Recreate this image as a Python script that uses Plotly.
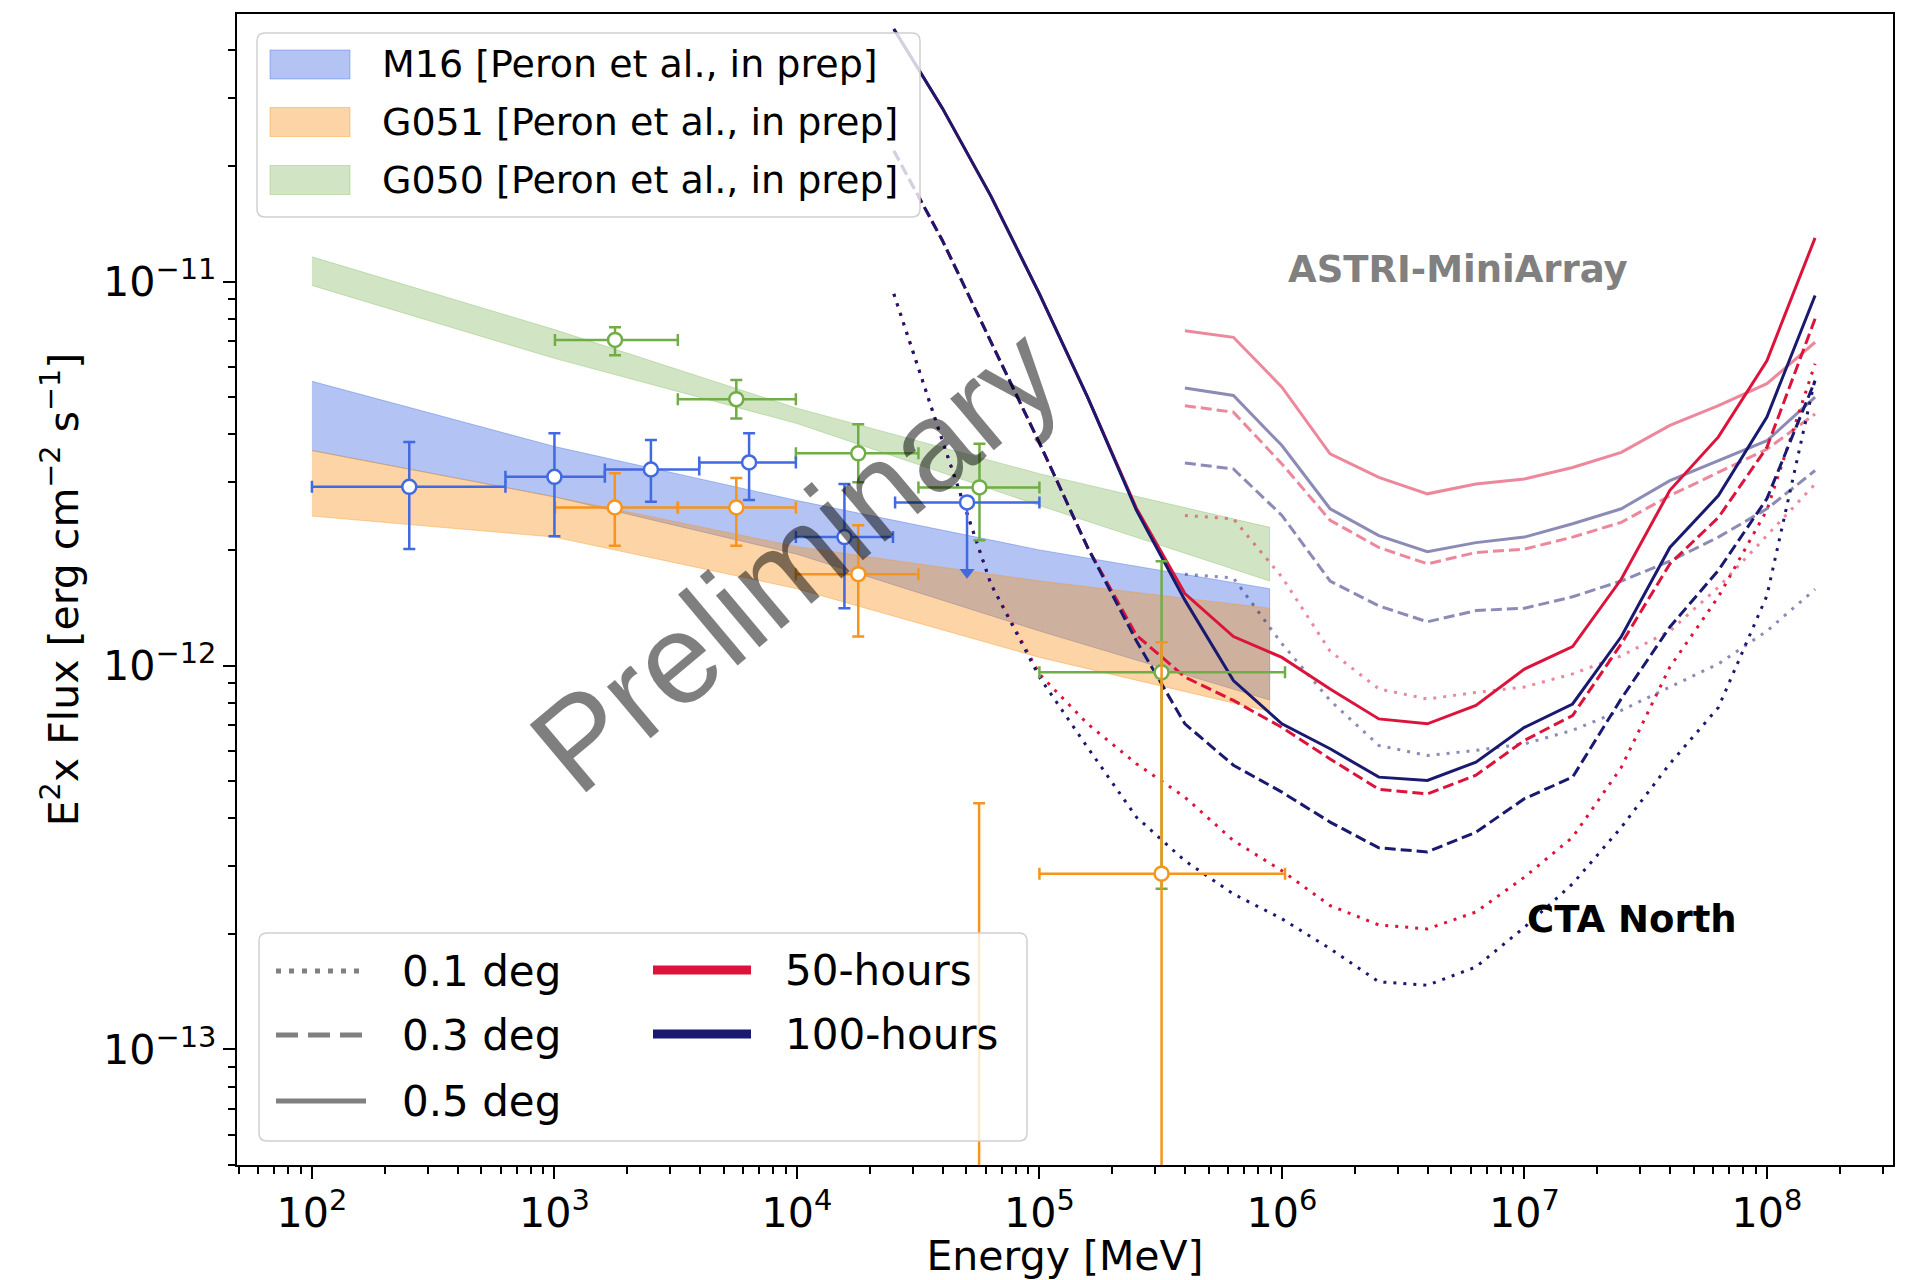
import plotly.graph_objects as go

# ------------------------------------------------------------------ data
# model bands (butterflies): energy nodes [MeV] and upper / lower flux
band_E = [1e2, 1e3, 1e4, 1e5, 8.9e5]
m16_hi = [5.50e-12, 3.72e-12, 2.69e-12, 2.00e-12, 1.585e-12]
m16_lo = [3.63e-12, 2.75e-12, 1.95e-12, 1.23e-12, 8.13e-13]
g051_hi = [3.63e-12, 2.75e-12, 2.04e-12, 1.66e-12, 1.41e-12]
g051_lo = [2.45e-12, 2.16e-12, 1.585e-12, 1.05e-12, 7.59e-13]
g050_hi = [1.16e-11, 7.50e-12, 4.68e-12, 3.16e-12, 2.29e-12]
g050_lo = [9.77e-12, 6.31e-12, 4.27e-12, 2.61e-12, 1.66e-12]

# flux points (E, E range, F, F range)
m16_E = [252, 1000, 2500, 6350, 1.57e4]
m16_Elo = [100, 628, 1614, 3955, 9900]
m16_Ehi = [628, 1614, 3955, 9900, 2.49e4]
m16_F = [2.92e-12, 3.10e-12, 3.24e-12, 3.38e-12, 2.16e-12]
m16_Fhi = [3.82e-12, 4.03e-12, 3.87e-12, 4.03e-12, 2.97e-12]
m16_Flo = [2.01e-12, 2.17e-12, 2.67e-12, 2.70e-12, 1.41e-12]

m16_ul_E = [5.03e4]
m16_ul_Elo = [2.54e4]
m16_ul_Ehi = [1.0e5]
m16_ul_F = [2.66e-12]
m16_ul_Fto = [1.75e-12]

g051_E = [1774, 5623, 1.79e4, 3.19e5, 5.64e4]
g051_Elo = [1005, 3228, 9900, 1.0e5, 5.64e4]
g051_Ehi = [3228, 9900, 3.17e4, 1.03e6, 5.64e4]
g051_F = [2.58e-12, 2.58e-12, 1.73e-12, 2.87e-13, 1.0e-14]
g051_Fhi = [3.17e-12, 3.08e-12, 2.32e-12, 1.15e-12, 4.38e-13]
g051_Flo = [2.05e-12, 2.05e-12, 1.19e-12, 0.0, 0.0]

g050_E = [1778, 5623, 1.79e4, 5.66e4, 3.19e5]
g050_Elo = [1005, 3228, 9900, 3.17e4, 1.0e5]
g050_Ehi = [3228, 9900, 3.17e4, 1.0e5, 1.03e6]
g050_F = [7.05e-12, 4.94e-12, 3.57e-12, 2.91e-12, 9.6e-13]
g050_Fhi = [7.61e-12, 5.54e-12, 4.25e-12, 3.78e-12, 1.87e-12]
g050_Flo = [6.43e-12, 4.40e-12, 3.00e-12, 2.12e-12, 2.62e-13]

# CTA North sensitivity curves
cta_E = [2.51e4, 3.98e4, 6.31e4, 1.0e5, 1.58e5, 2.51e5, 3.98e5, 6.31e5, 1.0e6, 1.58e6,
         2.51e6, 3.98e6, 6.31e6, 1.0e7, 1.58e7, 2.51e7, 3.98e7, 6.31e7, 1.0e8, 1.58e8]
cta_50h_05 = [4.55e-11, 2.83e-11, 1.67e-11, 9.29e-12, 5.00e-12, 2.57e-12, 1.54e-12, 1.19e-12, 1.05e-12, 8.69e-13,
              7.26e-13, 7.05e-13, 7.87e-13, 9.79e-13, 1.12e-12, 1.68e-12, 2.86e-12, 3.94e-12, 6.22e-12, 1.30e-11]
cta_100h_05 = [4.55e-11, 2.83e-11, 1.67e-11, 9.29e-12, 5.00e-12, 2.54e-12, 1.48e-12, 9.14e-13, 7.05e-13, 6.07e-13,
               5.12e-13, 5.02e-13, 5.60e-13, 6.90e-13, 7.94e-13, 1.19e-12, 2.03e-12, 2.77e-12, 4.44e-12, 9.20e-12]
cta_50h_03 = [2.19e-11, 1.28e-11, 6.97e-12, 3.80e-12, 2.03e-12, 1.20e-12, 9.33e-13, 8.11e-13, 6.90e-13, 5.71e-13,
              4.76e-13, 4.63e-13, 5.18e-13, 6.38e-13, 7.41e-13, 1.14e-12, 1.84e-12, 2.43e-12, 3.70e-12, 8.00e-12]
cta_100h_03 = [2.19e-11, 1.28e-11, 6.97e-12, 3.80e-12, 2.03e-12, 1.16e-12, 7.05e-13, 5.50e-13, 4.68e-13, 3.91e-13,
               3.35e-13, 3.27e-13, 3.68e-13, 4.50e-13, 5.12e-13, 8.20e-13, 1.26e-12, 1.77e-12, 2.72e-12, 5.52e-12]
cta_50h_01 = [9.29e-12, 3.85e-12, 1.63e-12, 9.50e-13, 7.05e-13, 5.55e-13, 4.54e-13, 3.50e-13, 2.92e-13, 2.37e-13,
              2.11e-13, 2.06e-13, 2.28e-13, 2.81e-13, 3.57e-13, 5.43e-13, 9.91e-13, 1.51e-12, 2.54e-12, 6.11e-12]
cta_100h_01 = [9.29e-12, 3.85e-12, 1.63e-12, 9.33e-13, 6.12e-13, 4.03e-13, 3.10e-13, 2.54e-13, 2.19e-13, 1.83e-13,
               1.50e-13, 1.47e-13, 1.64e-13, 2.08e-13, 2.70e-13, 3.79e-13, 5.55e-13, 7.78e-13, 1.52e-12, 5.58e-12]

# ASTRI Mini-Array sensitivity curves
astri_E = [3.98e5, 6.31e5, 1.0e6, 1.58e6, 2.51e6, 3.98e6, 6.31e6, 1.0e7, 1.58e7, 2.51e7,
           3.98e7, 6.31e7, 1.0e8, 1.58e8]
astri_50h_05 = [7.45e-12, 7.16e-12, 5.31e-12, 3.56e-12, 3.09e-12, 2.80e-12, 2.97e-12, 3.06e-12, 3.28e-12, 3.59e-12,
                4.22e-12, 4.75e-12, 5.42e-12, 6.95e-12]
astri_100h_05 = [5.28e-12, 5.05e-12, 3.74e-12, 2.56e-12, 2.18e-12, 1.98e-12, 2.09e-12, 2.16e-12, 2.34e-12, 2.56e-12,
                 3.03e-12, 3.42e-12, 3.85e-12, 5.00e-12]
astri_50h_03 = [4.75e-12, 4.57e-12, 3.35e-12, 2.39e-12, 2.03e-12, 1.84e-12, 1.97e-12, 2.01e-12, 2.16e-12, 2.36e-12,
                2.77e-12, 3.18e-12, 3.66e-12, 4.52e-12]
astri_100h_03 = [3.37e-12, 3.25e-12, 2.46e-12, 1.66e-12, 1.43e-12, 1.30e-12, 1.39e-12, 1.41e-12, 1.51e-12, 1.66e-12,
                 1.87e-12, 2.16e-12, 2.56e-12, 3.22e-12]
astri_50h_01 = [2.46e-12, 2.41e-12, 1.70e-12, 1.09e-12, 8.69e-13, 8.18e-13, 8.51e-13, 8.79e-13, 9.51e-13, 1.06e-12,
                1.23e-12, 1.60e-12, 2.18e-12, 2.97e-12]
astri_100h_01 = [1.73e-12, 1.69e-12, 1.14e-12, 8.11e-13, 6.19e-13, 5.83e-13, 6.01e-13, 6.25e-13, 6.78e-13, 7.64e-13,
                 8.79e-13, 1.01e-12, 1.23e-12, 1.58e-12]

band_names = ["M16 [Peron et al., in prep]", "G051 [Peron et al., in prep]", "G050 [Peron et al., in prep]"]
deg_labels = ["0.1 deg", "0.3 deg", "0.5 deg"]
time_labels = ["50-hours", "100-hours"]

# ------------------------------------------------------------------ style
W, H = 1927, 1280
L, R, T, B = 237, 34, 14, 115
FONT = "DejaVu Sans"
C_BLUE, C_ORANGE, C_GREEN = "#4169E1", "#F7941D", "#70AD47"
F_BLUE = "rgba(65,105,225,0.40)"
F_ORANGE = "rgba(247,148,29,0.40)"
F_GREEN = "rgba(112,173,71,0.32)"
C_50, C_100 = "#DC143C", "#191970"
DOT, DASH = "3px,7px", "11px,5px"
LW = 3

fig = go.Figure()


def band(E, hi, lo, fill, name):
    fig.add_trace(go.Scatter(
        x=list(E) + list(E)[::-1], y=list(hi) + list(lo)[::-1],
        fill="toself", fillcolor=fill, mode="lines",
        line=dict(color=fill, width=1), name=name, hoverinfo="skip"))


band(band_E, g050_hi, g050_lo, F_GREEN, band_names[2])
band(band_E, m16_hi, m16_lo, F_BLUE, band_names[0])
band(band_E, g051_hi, g051_lo, F_ORANGE, band_names[1])


def curve(E, F, color, dash, opacity, name):
    fig.add_trace(go.Scatter(x=E, y=F, mode="lines", opacity=opacity, name=name,
                             line=dict(color=color, width=LW, dash=dash)))


astri = [(astri_50h_01, C_50, DOT), (astri_100h_01, C_100, DOT),
         (astri_50h_03, C_50, DASH), (astri_100h_03, C_100, DASH),
         (astri_50h_05, C_50, "solid"), (astri_100h_05, C_100, "solid")]
for F, c, d in astri:
    curve(astri_E, F, c, d, 0.5, "ASTRI")
cta = [(cta_50h_01, C_50, DOT), (cta_100h_01, C_100, DOT),
       (cta_50h_03, C_50, DASH), (cta_100h_03, C_100, DASH),
       (cta_50h_05, C_50, "solid"), (cta_100h_05, C_100, "solid")]
for F, c, d in cta:
    curve(cta_E, F, c, d, 1.0, "CTA")


def points(E, Elo, Ehi, F, Flo, Fhi, color, name):
    fig.add_trace(go.Scatter(
        x=E, y=F, mode="markers", name=name,
        marker=dict(symbol="circle", size=14, color="white", line=dict(color=color, width=2.5)),
        error_x=dict(type="data", symmetric=False,
                     array=[h - e for h, e in zip(Ehi, E)],
                     arrayminus=[e - l for e, l in zip(E, Elo)],
                     color=color, thickness=2.5, width=6),
        error_y=dict(type="data", symmetric=False,
                     array=[h - f for h, f in zip(Fhi, F)],
                     arrayminus=[f - l for f, l in zip(F, Flo)],
                     color=color, thickness=2.5, width=6)))


points(g050_E, g050_Elo, g050_Ehi, g050_F, g050_Flo, g050_Fhi, C_GREEN, "G050")
points(g051_E, g051_Elo, g051_Ehi, g051_F, g051_Flo, g051_Fhi, C_ORANGE, "G051")
points(m16_E, m16_Elo, m16_Ehi, m16_F, m16_Flo, m16_Fhi, C_BLUE, "M16")

# M16 upper limit
fig.add_trace(go.Scatter(x=m16_ul_E, y=m16_ul_Fto, mode="markers",
                         marker=dict(symbol="triangle-down", size=13, color=C_BLUE)))
fig.add_trace(go.Scatter(
    x=m16_ul_E, y=m16_ul_F, mode="markers",
    marker=dict(symbol="circle", size=14, color="white", line=dict(color=C_BLUE, width=2.5)),
    error_x=dict(type="data", symmetric=False,
                 array=[h - e for h, e in zip(m16_ul_Ehi, m16_ul_E)],
                 arrayminus=[e - l for e, l in zip(m16_ul_E, m16_ul_Elo)],
                 color=C_BLUE, thickness=2.5, width=6),
    error_y=dict(type="data", symmetric=False, array=[0],
                 arrayminus=[f - t for f, t in zip(m16_ul_F, m16_ul_Fto)],
                 color=C_BLUE, thickness=2.5, width=0)))

# ------------------------------------------------------------------ axes
axis_common = dict(type="log", dtick=1, exponentformat="power", showexponent="all",
                   ticks="outside", ticklen=12, tickwidth=2, tickcolor="black",
                   showline=True, linecolor="black", linewidth=2, mirror=True,
                   showgrid=False, zeroline=False,
                   tickfont=dict(family=FONT, size=33, color="black"),
                   minor=dict(ticks="outside", ticklen=7, tickwidth=1.5, tickcolor="black",
                              dtick="D1", showgrid=False))
fig.update_xaxes(**axis_common, range=[1.691, 8.52],
                 title=dict(text="Energy [MeV]", font=dict(family=FONT, size=41), standoff=16))
fig.update_yaxes(**axis_common, range=[-13.301, -10.303],
                 title=dict(text="E<sup>2</sup>x Flux [erg cm<sup>−2</sup> s<sup>−1</sup>]",
                            font=dict(family=FONT, size=41), standoff=12))


# ------------------------------------------------------------------ legends (drawn manually)
def px(X):
    return (X - L) / (W - L - R)


def py(Y):
    return (H - B - Y) / (H - T - B)


def rrect(x0, y0, x1, y1, r):
    pts = [("M", [(x0 + r, y0)]), ("L", [(x1 - r, y0)]), ("Q", [(x1, y0), (x1, y0 + r)]),
           ("L", [(x1, y1 - r)]), ("Q", [(x1, y1), (x1 - r, y1)]), ("L", [(x0 + r, y1)]),
           ("Q", [(x0, y1), (x0, y1 - r)]), ("L", [(x0, y0 + r)]), ("Q", [(x0, y0), (x0 + r, y0)])]
    s = ""
    for cmd, ps in pts:
        s += cmd + " ".join(f"{px(a):.5f},{py(b):.5f}" for a, b in ps) + " "
    return s + "Z"


shapes = []
annots = []
for box in [(257, 33, 920, 217), (259, 933, 1027, 1141)]:
    shapes.append(dict(type="path", xref="paper", yref="paper", path=rrect(*box, 8),
                       fillcolor="rgba(255,255,255,0.8)", line=dict(color="#d0d0d0", width=1.5),
                       layer="above"))

for i, (fill, name, yc) in enumerate(zip([F_BLUE, F_ORANGE, F_GREEN],
                                         band_names, [64.5, 122, 180])):
    shapes.append(dict(type="rect", xref="paper", yref="paper",
                       x0=px(270), x1=px(350), y0=py(yc - 14.5), y1=py(yc + 14.5),
                       fillcolor=fill, line=dict(color=fill, width=1), layer="above"))
    annots.append(dict(xref="paper", yref="paper", x=px(380), y=py(yc), text=name,
                       xanchor="left", yanchor="middle", showarrow=False,
                       font=dict(family=FONT, size=38, color="black")))

for lab, dsh, yc in zip(deg_labels, ["5px,8px", "22px,10px", "solid"], [971, 1035, 1101]):
    shapes.append(dict(type="line", xref="paper", yref="paper",
                       x0=px(276), x1=px(366), y0=py(yc), y1=py(yc),
                       line=dict(color="#808080", width=5, dash=dsh), layer="above"))
    annots.append(dict(xref="paper", yref="paper", x=px(400), y=py(yc), text=lab,
                       xanchor="left", yanchor="middle", showarrow=False,
                       font=dict(family=FONT, size=42, color="black")))

for lab, col, yc in zip(time_labels, [C_50, C_100], [970, 1034]):
    shapes.append(dict(type="line", xref="paper", yref="paper",
                       x0=px(653), x1=px(751), y0=py(yc), y1=py(yc),
                       line=dict(color=col, width=9), layer="above"))
    annots.append(dict(xref="paper", yref="paper", x=px(783), y=py(yc), text=lab,
                       xanchor="left", yanchor="middle", showarrow=False,
                       font=dict(family=FONT, size=42, color="black")))

# text labels in the plot
annots.append(dict(xref="x", yref="y", x=6.726, y=-10.969, text="<b>ASTRI-MiniArray</b>",
                   showarrow=False, font=dict(family=FONT, size=37, color="#808080")))
annots.append(dict(xref="x", yref="y", x=7.443, y=-12.661, text="<b>CTA North</b>",
                   showarrow=False, font=dict(family=FONT, size=37, color="black")))
annots.append(dict(xref="x", yref="y", x=3.99, y=-11.724, text="Preliminary", textangle=-40,
                   showarrow=False,
                   font=dict(family="Liberation Sans", size=128, color="rgba(0,0,0,0.5)")))

fig.update_layout(width=W, height=H, margin=dict(l=L, r=R, t=T, b=B, autoexpand=False),
                  plot_bgcolor="white", paper_bgcolor="white", showlegend=False,
                  font=dict(family=FONT, color="black"), shapes=shapes, annotations=annots)

fig.write_html("out.html")
